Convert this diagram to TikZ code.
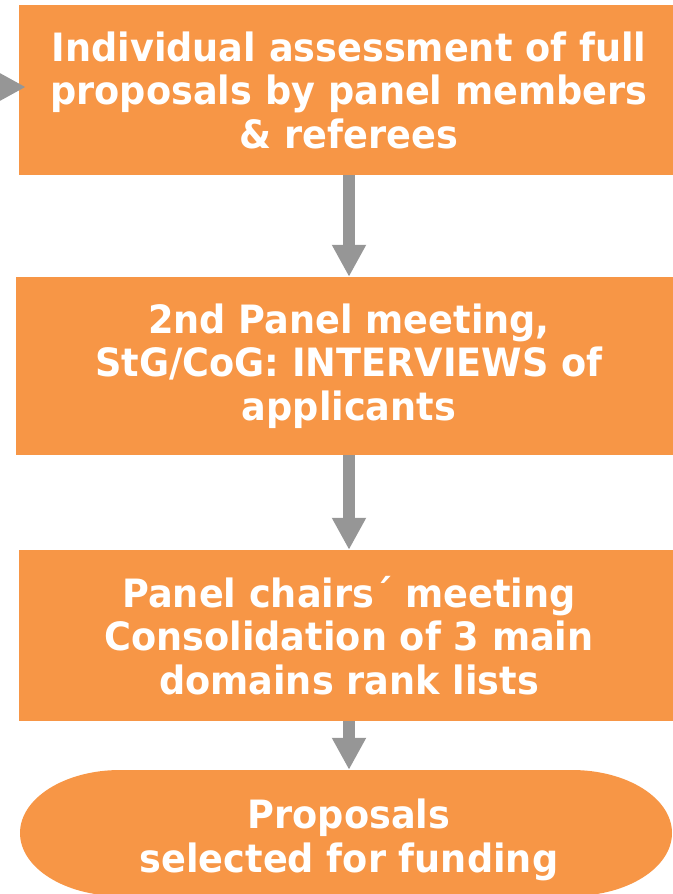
\documentclass[tikz,border=0pt]{standalone}
\usepackage{fontspec}
\setmainfont{DejaVu Sans}[FakeStretch=0.94]
\usetikzlibrary{arrows.meta, positioning}
\definecolor{stepor}{HTML}{F79646}
\definecolor{flowgr}{HTML}{969696}

\begin{document}
\begin{tikzpicture}[x=1pt, y=1pt,
  stepbox/.style={fill=stepor, text=white, align=center, inner sep=0pt,
    font=\fontsize{39}{43.5}\selectfont\bfseries},
  flow/.style={draw=flowgr, line width=12pt,
    -{Triangle[width=32pt, length=32pt]}}]
\useasboundingbox (0,0) rectangle (672,-894);
% process boxes
\node[stepbox, minimum width=660, minimum height=170] (assess) at (349,-90)
  {Individual assessment of full\\proposals by panel members\\\& referees};
\node[stepbox, minimum width=666, minimum height=178] (meet) at (349,-366)
  {2nd Panel meeting,\\StG/CoG: INTERVIEWS of\\applicants};
\node[stepbox, minimum width=660, minimum height=171] (chairs) at (349,-635.5)
  {Panel chairs´ meeting\\Consolidation of 3 main\\domains rank lists};
% end of the flow
\fill[stepor] (120,-770) -- (572,-770)
  arc[start angle=90, end angle=-90, x radius=100, y radius=63]
  -- (120,-896)
  arc[start angle=270, end angle=90, x radius=100, y radius=63] -- cycle;
\node[stepbox, fill=none, minimum width=452, minimum height=140] (select) at (349,-840)
  {Proposals\\selected for funding};
% arrows
\coordinate (in) at (-40,-87);
\draw[flow] (in) -- ([xshift=7pt, yshift=3pt]assess.west);
\draw[flow] (assess.south) -- (meet.north);
\draw[flow] (meet.south) -- (chairs.north);
\draw[flow] (chairs.south) -- (select.north);
\end{tikzpicture}
\end{document}
